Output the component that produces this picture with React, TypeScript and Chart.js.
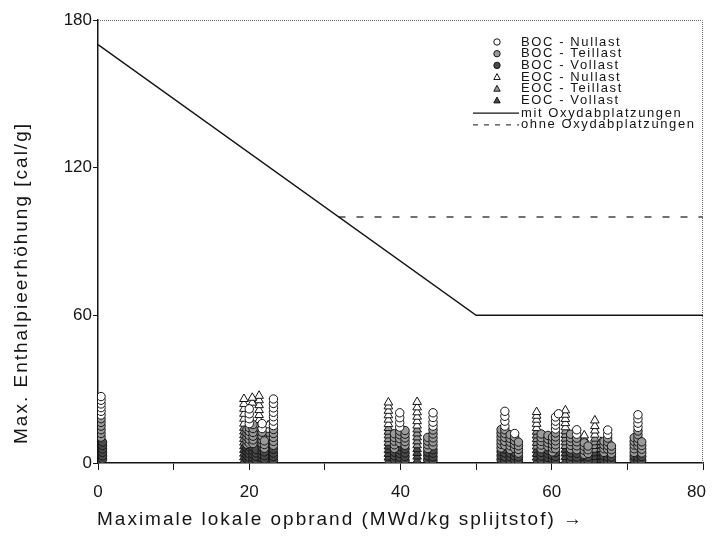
import React, { useEffect, useRef } from 'react';
import { Chart, registerables } from 'chart.js';

Chart.register(...registerables);

// ---------- data ----------
const xTickValues = [0, 20, 40, 60, 80];
const yTickValues = [0, 60, 120, 180];

const xTitle = 'Maximale lokale opbrand (MWd/kg splijtstof) →';
const yTitle = 'Max. Enthalpieerhöhung [cal/g]';

const seriesLabels = [
  'BOC - Nullast',
  'BOC - Teillast',
  'BOC - Vollast',
  'EOC - Nullast',
  'EOC - Teillast',
  'EOC - Vollast',
];
const lineLabels = ['mit Oxydabplatzungen', 'ohne Oxydabplatzungen'];

const mitX = [0, 50, 80];
const mitY = [170, 60, 60];
const ohneX = [31.8, 80];
const ohneY = [100, 100];

type P = [number, number];

const bocNullast: P[] = [
  [0.4, 19.5], [0.4, 21.0], [0.4, 22.5], [0.4, 24.0], [0.4, 25.5], [0.4, 27.0],
  [20.0, 16.0], [20.0, 18.0], [20.0, 20.0], [20.0, 22.0],
  [21.7, 14.0], [21.7, 16.0],
  [23.2, 15.2], [23.2, 17.0], [23.2, 18.8], [23.2, 20.6], [23.2, 22.4], [23.2, 24.2], [23.2, 26.0],
  [39.9, 14.6], [39.9, 16.4], [39.9, 18.4], [39.9, 20.4],
  [44.3, 15.0], [44.3, 16.6], [44.3, 18.5], [44.3, 20.4],
  [53.8, 15.0], [53.8, 17.0], [53.8, 19.0], [53.8, 21.0],
  [55.1, 12.0],
  [60.5, 13.8], [60.5, 15.4], [60.5, 17.0], [60.5, 18.7], [60.9, 20.0],
  [63.3, 11.7], [63.3, 13.5],
  [67.4, 11.6], [67.4, 13.4],
  [71.4, 14.5], [71.4, 16.2], [71.4, 18.0], [71.4, 19.6],
];

const bocTeillast: P[] = [
  [0.4, 10.5], [0.4, 12.0], [0.4, 13.5], [0.4, 15.0], [0.4, 16.5], [0.4, 18.0],
  [19.7, 7.6], [19.7, 9.1], [19.7, 10.6], [19.7, 12.1], [19.7, 13.6],
  [20.0, 8.0], [20.0, 9.6], [20.0, 11.2], [20.0, 12.8], [20.0, 14.4],
  [20.5, 7.9], [20.5, 9.4], [20.5, 10.9], [20.5, 12.4], [20.5, 14.0], [20.5, 15.6],
  [21.7, 7.8], [21.7, 9.3], [21.7, 10.9], [21.7, 12.5],
  [22.0, 6.0], [22.0, 7.5], [22.0, 9.0],
  [23.2, 7.2], [23.2, 8.8], [23.2, 10.4], [23.2, 12.0], [23.2, 13.6],
  [39.2, 5.9], [39.2, 7.4], [39.2, 8.9], [39.2, 10.4], [39.2, 11.9],
  [39.9, 8.3], [39.9, 9.9], [39.9, 11.5], [39.9, 13.0],
  [40.6, 7.2], [40.6, 8.7], [40.6, 10.2], [40.6, 11.7], [40.6, 13.2],
  [43.6, 5.9], [43.6, 7.4], [43.6, 8.9], [43.6, 10.4],
  [44.3, 7.0], [44.3, 8.6], [44.3, 10.2], [44.3, 11.8], [44.3, 13.4],
  [53.3, 6.1], [53.3, 7.6], [53.3, 9.1], [53.3, 10.6], [53.3, 12.1], [53.3, 13.6],
  [53.8, 7.2], [53.8, 8.8], [53.8, 10.4], [53.8, 12.0], [53.8, 13.5],
  [54.5, 5.5], [54.5, 7.0], [54.5, 8.5], [54.5, 10.0], [54.5, 11.5],
  [55.1, 5.9], [55.1, 7.5], [55.1, 9.0], [55.1, 10.5],
  [55.6, 4.0], [55.6, 5.5], [55.6, 7.0], [55.6, 8.5],
  [58.6, 5.8], [58.6, 7.3], [58.6, 8.8], [58.6, 10.3], [58.6, 11.8],
  [59.5, 6.7], [59.5, 8.2], [59.5, 9.7], [59.5, 11.2],
  [60.1, 4.5], [60.1, 6.0], [60.1, 7.5], [60.1, 9.0], [60.1, 10.5],
  [60.5, 5.8], [60.5, 7.4], [60.5, 9.0], [60.5, 10.6], [60.5, 12.2],
  [62.5, 5.7], [62.5, 7.2], [62.5, 8.7], [62.5, 10.2], [62.5, 11.7],
  [63.3, 5.4], [63.3, 7.0], [63.3, 8.6], [63.3, 10.1],
  [64.3, 3.5], [64.3, 5.1], [64.3, 6.7], [64.3, 8.2],
  [64.8, 3.9], [64.8, 5.4], [64.8, 6.9],
  [66.9, 4.3], [66.9, 5.8], [66.9, 7.3], [66.9, 8.8],
  [67.4, 5.6], [67.4, 7.1], [67.4, 8.6], [67.4, 10.1],
  [67.9, 3.9], [67.9, 5.4], [67.9, 6.9],
  [70.9, 4.3], [70.9, 5.8], [70.9, 7.3], [70.9, 8.8], [70.9, 10.3],
  [71.4, 7.0], [71.4, 8.5], [71.4, 10.0], [71.4, 11.5], [71.4, 13.0],
  [71.9, 4.1], [71.9, 5.6], [71.9, 7.1], [71.9, 8.6],
];

const bocVollast: P[] = [
  [0.4, 0.8], [0.4, 2.2], [0.4, 3.6], [0.4, 5.0], [0.4, 6.4], [0.4, 7.8], [0.4, 9.2],
  [0.6, 1.5], [0.6, 2.9], [0.6, 4.3], [0.6, 5.7], [0.6, 7.1], [0.6, 8.5],
  [19.7, 1.6], [19.7, 3.1], [19.7, 4.6], [19.7, 6.1],
  [20.0, 0.9], [20.0, 2.3], [20.0, 3.8], [20.0, 5.2], [20.0, 6.6],
  [20.5, 0.8], [20.5, 2.2], [20.5, 3.6], [20.5, 5.0], [20.5, 6.4],
  [20.9, 1.2], [20.9, 2.7], [20.9, 4.1], [20.9, 5.5],
  [21.7, 0.7], [21.7, 2.0], [21.7, 3.4], [21.7, 4.9], [21.7, 6.3],
  [22.0, 1.5], [22.0, 3.0], [22.0, 4.5],
  [23.2, 1.0], [23.2, 2.6], [23.2, 4.0], [23.2, 5.6],
  [39.2, 1.4], [39.2, 2.9], [39.2, 4.4],
  [39.9, 0.8], [39.9, 2.4], [39.9, 3.9], [39.9, 5.3], [39.9, 6.8],
  [40.6, 1.0], [40.6, 2.6], [40.6, 4.1], [40.6, 5.7],
  [43.6, 1.3], [43.6, 2.9], [43.6, 4.4],
  [44.3, 1.0], [44.3, 2.5], [44.3, 4.0], [44.3, 5.4],
  [53.3, 1.4], [53.3, 3.0], [53.3, 4.6],
  [53.8, 0.9], [53.8, 2.5], [53.8, 4.1], [53.8, 5.6],
  [54.5, 0.9], [54.5, 2.5], [54.5, 4.0],
  [55.1, 1.2], [55.1, 2.8], [55.1, 4.3],
  [55.6, 1.0], [55.6, 2.5],
  [58.6, 1.3], [58.6, 2.8], [58.6, 4.3],
  [59.5, 0.8], [59.5, 2.3], [59.5, 3.8], [59.5, 5.2],
  [60.1, 1.5], [60.1, 3.0],
  [60.5, 1.1], [60.5, 2.6], [60.5, 4.2],
  [62.5, 1.2], [62.5, 2.7], [62.5, 4.2],
  [63.3, 0.9], [63.3, 2.4], [63.3, 3.9],
  [64.8, 1.0], [64.8, 2.5],
  [66.9, 1.3], [66.9, 2.8],
  [67.4, 1.0], [67.4, 2.5], [67.4, 4.0],
  [67.9, 0.9], [67.9, 2.4],
  [70.9, 1.3], [70.9, 2.8],
  [71.4, 0.8], [71.4, 2.4], [71.4, 3.9], [71.4, 5.4],
  [71.9, 1.0], [71.9, 2.6],
];

const eocNullast: P[] = [
  [19.3, 16.0], [19.3, 18.0], [19.3, 20.0], [19.3, 22.0], [19.3, 24.0], [19.3, 26.0],
  [21.3, 15.5], [21.3, 17.5], [21.3, 19.5], [21.3, 21.5], [21.3, 23.5], [21.3, 25.5], [21.3, 27.3],
  [20.4, 24.5], [20.4, 26.5],
  [22.5, 13.5], [22.5, 15.3],
  [38.4, 15.8], [38.4, 17.6], [38.4, 19.4], [38.4, 21.2], [38.4, 23.0], [38.4, 24.6],
  [42.2, 15.2], [42.2, 17.0], [42.2, 18.8], [42.2, 20.6], [42.2, 22.6], [42.2, 24.8],
  [58.0, 14.2], [58.0, 15.9], [58.0, 17.6], [58.0, 19.2], [58.0, 20.7],
  [61.8, 14.5], [61.8, 16.2], [61.8, 17.9], [61.8, 19.6], [61.8, 21.4],
  [65.7, 11.5], [65.7, 13.2], [65.7, 15.0], [65.7, 17.3],
  [64.3, 9.8], [64.3, 11.2],
];

const eocTeillast: P[] = [
  [19.3, 8.3], [19.3, 9.8], [19.3, 11.3], [19.3, 12.8], [19.3, 14.3],
  [21.3, 7.6], [21.3, 9.1], [21.3, 10.7], [21.3, 12.2], [21.3, 13.8],
  [22.5, 8.7], [22.5, 10.3], [22.5, 11.9],
  [38.4, 8.2], [38.4, 9.7], [38.4, 11.2], [38.4, 12.7], [38.4, 14.2],
  [42.2, 7.2], [42.2, 8.8], [42.2, 10.4], [42.2, 12.0], [42.2, 13.6],
  [58.0, 6.7], [58.0, 8.2], [58.0, 9.7], [58.0, 11.2], [58.0, 12.7],
  [61.8, 6.9], [61.8, 8.4], [61.8, 9.9], [61.8, 11.4], [61.8, 12.9],
  [65.7, 5.4], [65.7, 6.9], [65.7, 8.4], [65.7, 9.9],
  [66.5, 5.7], [66.5, 7.2], [66.5, 8.6],
];

const eocVollast: P[] = [
  [19.3, 0.8], [19.3, 2.3], [19.3, 3.8], [19.3, 5.3], [19.3, 6.8],
  [21.3, 1.3], [21.3, 2.8], [21.3, 4.4], [21.3, 6.0],
  [22.5, 0.9], [22.5, 2.5], [22.5, 4.0], [22.5, 5.6], [22.5, 7.1],
  [38.4, 0.7], [38.4, 2.2], [38.4, 3.7], [38.4, 5.2], [38.4, 6.7],
  [42.2, 1.0], [42.2, 2.6], [42.2, 4.1], [42.2, 5.6],
  [58.0, 0.7], [58.0, 2.2], [58.0, 3.7], [58.0, 5.2],
  [61.8, 0.9], [61.8, 2.4], [61.8, 3.9], [61.8, 5.4],
  [64.3, 0.8], [64.3, 2.2],
  [65.7, 0.9], [65.7, 2.4], [65.7, 3.9],
  [66.5, 1.2], [66.5, 2.7], [66.5, 4.2],
];

// ---------- styles ----------
const FONT = '"Liberation Sans", Arial, Helvetica, sans-serif';
const INK = '#151515';
const markerFills = ['#ffffff', '#9a9a9a', '#4a4a4a', '#ffffff', '#9a9a9a', '#4a4a4a'];
const markerShapes = ['circle', 'circle', 'circle', 'triangle', 'triangle', 'triangle'];

const toXY = (arr: P[]) => arr.map(([x, y]) => ({ x, y }));

function drawMarker(ctx: CanvasRenderingContext2D, shape: string, x: number, y: number, r: number, fill: string) {
  ctx.beginPath();
  if (shape === 'circle') {
    ctx.arc(x, y, r, 0, Math.PI * 2);
  } else {
    ctx.moveTo(x, y - r * 1.1);
    ctx.lineTo(x + r, y + r * 0.75);
    ctx.lineTo(x - r, y + r * 0.75);
    ctx.closePath();
  }
  ctx.fillStyle = fill;
  ctx.fill();
  ctx.lineWidth = 1;
  ctx.strokeStyle = INK;
  ctx.stroke();
}

const framePlugin = {
  id: 'frameAndLegend',
  afterDraw(chart: any) {
    const { ctx, chartArea } = chart;
    const { left, right, top, bottom } = chartArea;
    ctx.save();
    // dotted top & right frame
    ctx.strokeStyle = '#6a6a6a';
    ctx.lineWidth = 1;
    ctx.setLineDash([1, 1]);
    ctx.beginPath();
    ctx.moveTo(left, top + 0.5);
    ctx.lineTo(right - 0.5, top + 0.5);
    ctx.lineTo(right - 0.5, bottom);
    ctx.stroke();
    ctx.setLineDash([]);

    // x tick labels (drawn here so the last one stays inside the visible area)
    const xs = chart.scales.x;
    ctx.font = `17px ${FONT}`;
    ctx.fillStyle = INK;
    ctx.textBaseline = 'middle';
    ctx.textAlign = 'center';
    const maxRight = 706;
    xTickValues.forEach((v) => {
      const label = String(v);
      const w = ctx.measureText(label).width;
      let px = xs.getPixelForValue(v);
      if (px + w / 2 > maxRight) px = maxRight - w / 2;
      ctx.fillText(label, px, bottom + 29);
    });

    // legend (canvas x == page x here)
    const markerX = 497;
    const textX = 521;
    const rowY0 = 34;
    const rowH = 11.7;
    ctx.font = `13px ${FONT}`;
    (ctx as any).letterSpacing = '1.6px';
    ctx.textBaseline = 'middle';
    ctx.textAlign = 'left';
    seriesLabels.forEach((lab, i) => {
      const y = rowY0 + i * rowH;
      drawMarker(ctx, markerShapes[i], markerX, y, 3.2, markerFills[i]);
      ctx.fillStyle = INK;
      ctx.fillText(lab, textX, y);
    });
    lineLabels.forEach((lab, j) => {
      const y = rowY0 + (6 + j) * rowH + 1;
      ctx.beginPath();
      ctx.strokeStyle = j === 0 ? INK : '#444';
      ctx.lineWidth = 1.2;
      if (j === 1) ctx.setLineDash([5, 6]);
      ctx.moveTo(473, y);
      ctx.lineTo(519, y);
      ctx.stroke();
      ctx.setLineDash([]);
      ctx.fillStyle = INK;
      ctx.fillText(lab, textX, y);
    });

    // axis titles
    ctx.font = `19px ${FONT}`;
    (ctx as any).letterSpacing = '2px';
    ctx.fillStyle = INK;
    ctx.textAlign = 'left';
    ctx.textBaseline = 'middle';
    ctx.fillText(xTitle, left - 1, 512);

    ctx.save();
    ctx.translate(22, 275);
    ctx.rotate(-Math.PI / 2);
    ctx.textAlign = 'center';
    ctx.fillText(yTitle, 0, 0);
    ctx.restore();

    (ctx as any).letterSpacing = '0px';
    ctx.restore();
  },
};

export default function App() {
  const canvasRef = useRef<HTMLCanvasElement | null>(null);

  useEffect(() => {
    if (!canvasRef.current) return;
    const scatterSets = [bocNullast, bocTeillast, bocVollast, eocNullast, eocTeillast, eocVollast].map(
      (arr, i) => ({
        type: 'scatter' as const,
        label: seriesLabels[i],
        data: toXY(arr),
        pointStyle: markerShapes[i] as any,
        pointRadius: markerShapes[i] === 'circle' ? 4.2 : 5,
        pointBackgroundColor: markerFills[i],
        pointBorderColor: INK,
        pointBorderWidth: 1,
        showLine: false,
      })
    );

    const chart = new Chart(canvasRef.current, {
      type: 'scatter',
      data: {
        datasets: [
          ...scatterSets,
          {
            type: 'line' as const,
            label: lineLabels[0],
            data: mitX.map((x, i) => ({ x, y: mitY[i] })),
            borderColor: INK,
            borderWidth: 1.5,
            pointRadius: 0,
            showLine: true,
            fill: false,
            tension: 0,
          },
          {
            type: 'line' as const,
            label: lineLabels[1],
            data: ohneX.map((x, i) => ({ x, y: ohneY[i] })),
            borderColor: '#444',
            borderWidth: 1.5,
            borderDash: [7, 11],
            pointRadius: 0,
            showLine: true,
            fill: false,
            tension: 0,
          },
        ] as any,
      },
      options: {
        animation: false,
        responsive: false,
        devicePixelRatio: 1,
        layout: { padding: { left: 0, right: 13, top: 12, bottom: 0 } },
        plugins: {
          legend: { display: false },
          tooltip: { enabled: false },
        },
        scales: {
          x: {
            type: 'linear',
            min: 0,
            max: 80,
            afterFit: (s: any) => {
              s.height = 72;
              s.paddingLeft = 0;
              s.paddingRight = 0;
            },
            afterBuildTicks: (s: any) => {
              const t: any[] = [];
              for (let v = 0; v <= 80; v += 10) t.push({ value: v });
              s.ticks = t;
            },
            ticks: {
              callback: () => '',
              color: INK,
              font: { family: FONT, size: 17 },
              padding: 12,
              maxRotation: 0,
              autoSkip: false,
            },
            grid: { drawOnChartArea: false, drawTicks: true, tickLength: 7, tickColor: INK },
            border: { display: true, color: INK, width: 1.5 },
            title: { display: false },
          },
          y: {
            type: 'linear',
            min: 0,
            max: 180,
            afterFit: (s: any) => {
              s.width = 98;
            },
            afterBuildTicks: (s: any) => {
              s.ticks = yTickValues.map((v) => ({ value: v }));
            },
            ticks: {
              color: INK,
              font: { family: FONT, size: 17 },
              padding: 1,
            },
            grid: { drawOnChartArea: false, drawTicks: true, tickLength: 5, tickColor: INK },
            border: { display: true, color: INK, width: 1.5 },
            title: { display: false },
          },
        },
      } as any,
      plugins: [framePlugin],
    });
    return () => chart.destroy();
  }, []);

  return (
    <div style={{ width: 716, height: 527, marginLeft: -8, background: '#fff' }}>
      <canvas ref={canvasRef} width={716} height={527} style={{ display: 'block', width: 716, height: 527 }} />
    </div>
  );
}
